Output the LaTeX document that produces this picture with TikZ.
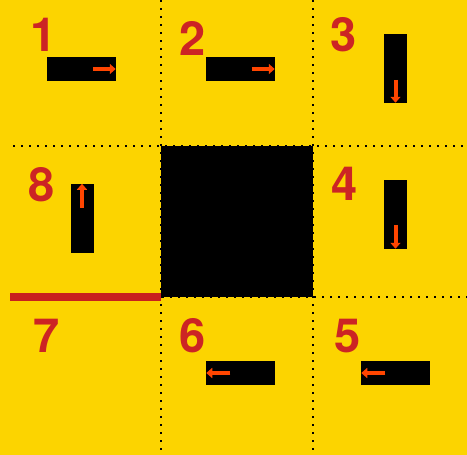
\documentclass[tikz,border=0pt]{standalone}
\usepackage{fontspec}
\setmainfont{Liberation Sans}
\newfontfamily\numfont{texgyreheros-bold}[Extension=.otf]
\usetikzlibrary{arrows.meta,calc}
\definecolor{bgyellow}{HTML}{FCD400}
\definecolor{numred}{HTML}{CC2424}
\definecolor{barred}{HTML}{C8201E}
\definecolor{mvred}{HTML}{FF4500}
\tikzset{
  num/.style={anchor=base,inner sep=0pt,text=numred,font=\numfont\fontsize{47}{47}\selectfont},
  hbox/.style={fill=black,draw=black,line width=0.5pt,inner sep=0pt,minimum width=68pt,minimum height=23pt},
  vbox/.style={hbox,minimum width=22pt,minimum height=68pt},
  mv/.style={draw=mvred,line width=4pt,-{Triangle[length=6pt,width=10pt]}},
  grid/.style={line width=2pt,dash pattern=on 2pt off 6pt}
}

\begin{document}
\begin{tikzpicture}[x=1pt,y=-1pt]
\useasboundingbox (0,0) rectangle (467,455);
\fill[bgyellow] (0,0) rectangle (467,455);
% dotted grid
\draw[grid] (161,0)--(161,455);
\draw[grid] (313,0)--(313,455);
\draw[grid] (13,146)--(467,146);
\draw[grid] (10,297)--(467,297);
% centre block and bar
\node[fill=black,inner sep=0pt,minimum width=152pt,minimum height=151pt] (mid) at (237,221.5) {};
\draw[barred,line width=8pt] (mid.south west)--++(-151,0);
% cars
\node[hbox] (p1) at (81.5,69) {};
\node[hbox] (p2) at (240.5,69) {};
\node[vbox] (p3) at (395.5,68.5) {};
\node[vbox] (p4) at (395.5,214.5) {};
\node[hbox] (p5) at (395.5,373) {};
\node[hbox] (p6) at (240.5,373) {};
\node[vbox] (p8) at (82,218) {};
\draw[mv] ([xshift=-23pt]p1.east)--(p1.east);
\draw[mv] ([xshift=-23pt]p2.east)--(p2.east);
\draw[mv] ([yshift=23pt]p3.south)--(p3.south);
\draw[mv] ([yshift=24pt]p4.south)--(p4.south);
\draw[mv] ([xshift=24pt]p5.west)--(p5.west);
\draw[mv] ([xshift=24pt]p6.west)--(p6.west);
\draw[mv] ([yshift=-24pt]p8.north)--(p8.north);
% numbers
\node[num] (n1) at (44,52) {1};
\node[num] (n2) at (193,56) {2};
\node[num] (n3) at (344,52) {3};
\node[num] (n4) at (345,200) {4};
\node[num] (n5) at (348,352) {5};
\node[num] (n6) at (193,352) {6};
\node[num] (n7) at (47,352) {7};
\node[num] (n8) at (42,201) {8};
\end{tikzpicture}
\end{document}
